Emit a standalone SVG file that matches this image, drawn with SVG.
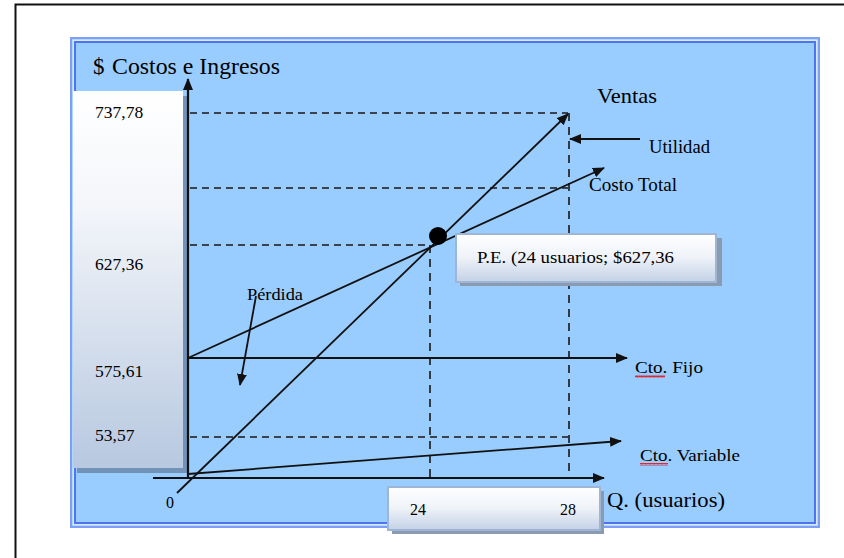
<svg xmlns="http://www.w3.org/2000/svg" width="844" height="558" viewBox="0 0 844 558">
<defs>
<linearGradient id="gBox" x1="0" y1="0" x2="0" y2="1">
<stop offset="0" stop-color="#ffffff"/>
<stop offset="0.3" stop-color="#f4f6fa"/>
<stop offset="1" stop-color="#b7c8e0"/>
</linearGradient>
<linearGradient id="gSmall" x1="0" y1="0" x2="0" y2="1">
<stop offset="0" stop-color="#ffffff"/>
<stop offset="0.5" stop-color="#eef2f8"/>
<stop offset="1" stop-color="#c3d1e6"/>
</linearGradient>
<marker id="ah" markerWidth="12" markerHeight="10" refX="11" refY="5" orient="auto" markerUnits="userSpaceOnUse">
<path d="M0,0 L12,5 L0,10 Z" fill="#111"/>
</marker>
<pattern id="wavy" width="4" height="3" patternUnits="userSpaceOnUse">
<path d="M0,2.5 L1,0.5 L2,2.5 L3,0.5 L4,2.5" fill="none" stroke="#e00" stroke-width="0.8"/>
</pattern>
</defs>
<style>
.t{font-family:"Liberation Serif","DejaVu Serif",serif;fill:#000}
.ln{stroke:#111;stroke-width:1.8;fill:none}
.ax{stroke:#111;stroke-width:2.2;fill:none}
.ds{stroke:#3a4250;stroke-width:2.2;fill:none;stroke-dasharray:7,5}
.dv{stroke:#222;stroke-width:1.7;fill:none;stroke-dasharray:8,6}
</style>
<rect x="15.5" y="4.5" width="840" height="570" fill="#ffffff" stroke="#111" stroke-width="2"/>
<g id="frame">
<rect x="70" y="37" width="750" height="491" fill="#99ccff"/>
<rect x="71" y="38" width="748" height="489" fill="none" stroke="#7d9ff5" stroke-width="2"/>
<rect x="73.2" y="40.2" width="743.6" height="484.6" fill="none" stroke="#f2f6ff" stroke-width="1"/>
<rect x="75" y="42" width="740" height="481" fill="none" stroke="#4f74ee" stroke-width="2"/>
</g>
<g id="ylabels">
<rect x="77" y="96" width="110" height="377" fill="#7392b8"/>
<rect x="73" y="91" width="110" height="377" fill="url(#gBox)"/>
<text class="t" x="95" y="118" font-size="17.5">737,78</text>
<text class="t" x="95" y="270" font-size="17.5">627,36</text>
<text class="t" x="95" y="377" font-size="17.5">575,61</text>
<text class="t" x="95" y="441" font-size="17.5">53,57</text>
</g>
<g id="ytitle">
<text class="t" x="93" y="74" font-size="23">$</text>
<text class="t" x="112" y="74" font-size="23" textLength="168" lengthAdjust="spacingAndGlyphs">Costos e Ingresos</text>
</g>
<g id="connectors">
<line class="ds" x1="190" y1="113" x2="568" y2="113"/>
<line class="ds" x1="190" y1="188" x2="568" y2="188"/>
<line class="ds" x1="190" y1="245" x2="430" y2="245"/>
<line class="ds" x1="190" y1="437" x2="568" y2="437"/>
<line class="dv" x1="430" y1="245" x2="430" y2="478"/>
<line class="dv" x1="569" y1="113" x2="569" y2="478"/>
<line class="ax" x1="188" y1="478" x2="188" y2="79" marker-end="url(#ah)"/>
<line class="ax" x1="153" y1="478" x2="604" y2="478" marker-end="url(#ah)"/>
<line class="ln" x1="188" y1="358" x2="627" y2="358" marker-end="url(#ah)"/>
<line class="ln" x1="177" y1="493" x2="568" y2="114" marker-end="url(#ah)"/>
<line class="ln" x1="188" y1="358" x2="604" y2="168" marker-end="url(#ah)"/>
<line class="ln" x1="188" y1="474" x2="621" y2="441" marker-end="url(#ah)"/>
<line class="ln" x1="640" y1="139" x2="570" y2="139" marker-end="url(#ah)"/>
<line class="ln" x1="256" y1="296" x2="240" y2="385" marker-end="url(#ah)"/>
</g>
<g id="pe">
<circle cx="438" cy="236" r="9" fill="#000"/>
<rect x="460" y="238" width="262" height="48" fill="#8a9bb0"/>
<rect x="456" y="234" width="260" height="48" fill="url(#gSmall)" stroke="#9fb5d6" stroke-width="2"/>
<text class="t" x="477" y="263" font-size="16" textLength="197" lengthAdjust="spacingAndGlyphs">P.E. (24 usuarios; $627,36</text>
</g>
<g id="xlabels">
<rect x="392" y="491" width="212" height="43" fill="#8a9bb0"/>
<rect x="388" y="487" width="212" height="43" fill="url(#gSmall)" stroke="#9fb5d6" stroke-width="2"/>
<text class="t" x="410" y="515" font-size="16">24</text>
<text class="t" x="560" y="515" font-size="16">28</text>
</g>
<g id="labels">
<text class="t" x="166" y="508" font-size="16">0</text>
<text class="t" x="597" y="103" font-size="21" textLength="60" lengthAdjust="spacingAndGlyphs">Ventas</text>
<text class="t" x="649" y="153" font-size="18" textLength="61" lengthAdjust="spacingAndGlyphs">Utilidad</text>
<text class="t" x="589" y="191" font-size="18" textLength="88" lengthAdjust="spacingAndGlyphs">Costo Total</text>
<text class="t" x="247" y="300" font-size="16" textLength="56" lengthAdjust="spacingAndGlyphs">Pérdida</text>
<text class="t" x="635" y="373" font-size="17" textLength="68" lengthAdjust="spacingAndGlyphs">Cto. Fijo</text>
<rect x="635" y="375" width="30" height="3" fill="url(#wavy)"/>
<text class="t" x="640" y="461" font-size="17" textLength="100" lengthAdjust="spacingAndGlyphs">Cto. Variable</text>
<rect x="640" y="463" width="28" height="3" fill="url(#wavy)"/>
<text class="t" x="607" y="507" font-size="21" textLength="118" lengthAdjust="spacingAndGlyphs">Q. (usuarios)</text>
</g>
</svg>
